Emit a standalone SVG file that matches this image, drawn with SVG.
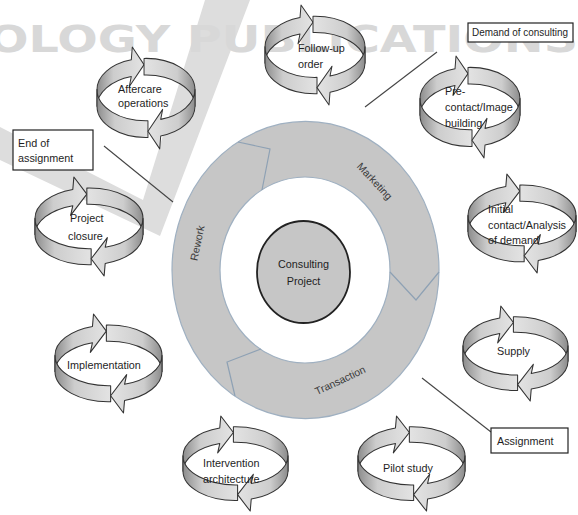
<svg xmlns="http://www.w3.org/2000/svg" width="578" height="515" viewBox="0 0 578 515">
<style>
.lbl{font-family:"Liberation Sans",Arial,sans-serif;font-size:10.8px;fill:#1e1e1e}
.rl{font-family:"Liberation Sans",Arial,sans-serif;font-size:10.5px;fill:#3a3a3a}
.rib{fill:url(#gf);stroke:#333;stroke-width:1;stroke-linejoin:round}
.box{fill:#fff;stroke:#222;stroke-width:1.2}
.con{stroke:#444;stroke-width:1.1;fill:none}
.chev{fill:none;stroke:#8ea1b4;stroke-width:1.2}
</style>
<defs>
<linearGradient id="gf" x1="0" y1="0" x2="1" y2="0">
<stop offset="0" stop-color="#8c8c8c"/>
<stop offset="0.35" stop-color="#cdcdcd"/>
<stop offset="1" stop-color="#e3e3e3"/>
</linearGradient>
<path id="back" class="rib" d="M0,40 A50,30 0 0 1 35,11.38 L36,-1 L48,16 L33,37 L35,27.38 A50,30 0 0 0 0,56 Z"/>
<path id="front" class="rib" d="M0,40 A50,30 0 0 0 52,69.98 L52,85.98 A50,30 0 0 1 0,56 Z"/>
<g id="cyc">
<use href="#back"/>
<use href="#front" transform="rotate(180 50 48)"/>
<use href="#front"/>
<use href="#back" transform="rotate(180 50 48)"/>
</g>
</defs>

<g id="watermark">
<polygon points="0,127 143,200 205,0 250,0 160,236 0,160" fill="#dddddd"/>
<text x="-12" y="52" font-family="DejaVu Sans" font-weight="bold" font-size="37" fill="#d8d8d8" textLength="590" lengthAdjust="spacingAndGlyphs">OLOGY PUBLICATIONS</text>
</g>

<g id="ring">
<path d="M172,270 A133.5,148.5 0 1 1 439,270 A133.5,148.5 0 1 1 172,270 Z M220,270 A85,93 0 1 0 390,270 A85,93 0 1 0 220,270 Z" fill="#c6c6c6" fill-rule="evenodd" stroke="#9fb0c1" stroke-width="1.2"/>
<polyline class="chev" points="238,142 270,149 262,190"/>
<polyline class="chev" points="390,272 416,300 439,272"/>
<polyline class="chev" points="261,349 227,362 235,396"/>
<text class="rl" transform="translate(375,181) rotate(47)" text-anchor="middle" dy="4">Marketing</text>
<text class="rl" transform="translate(197,243) rotate(-78)" text-anchor="middle" dy="4">Rework</text>
<text class="rl" transform="translate(340,380) rotate(-25)" text-anchor="middle" dy="4">Transaction</text>
</g>

<g id="n-center">
<ellipse cx="303.5" cy="272" rx="46.5" ry="51" fill="#c6c6c6" stroke="#222" stroke-width="1.8"/>
<text class="lbl" x="303.5" y="268" text-anchor="middle" font-size="11">Consulting</text>
<text class="lbl" x="303.5" y="285" text-anchor="middle" font-size="11">Project</text>
</g>

<g id="n-aftercare">
<use href="#cyc" transform="translate(97,48) scale(0.98,1.04)"/>
<text class="lbl" x="118" y="93">Aftercare</text>
<text class="lbl" x="118" y="107">operations</text>
</g>

<g id="n-followup">
<use href="#cyc" transform="translate(265,6) scale(1,1.02)"/>
<text class="lbl" x="298" y="52">Follow-up</text>
<text class="lbl" x="298" y="68">order</text>
</g>

<g id="n-precontact">
<use href="#cyc" transform="translate(420,57) scale(1,1.04)"/>
<text class="lbl" x="445" y="95">Pre-</text>
<text class="lbl" x="445" y="111">contact/Image</text>
<text class="lbl" x="445" y="127">building</text>
</g>

<g id="n-initial">
<use href="#cyc" transform="translate(468,175) scale(1.08,1.01)"/>
<text class="lbl" x="488" y="213">Initial</text>
<text class="lbl" x="488" y="229">contact/Analysis</text>
<text class="lbl" x="488" y="244">of demand</text>
</g>

<g id="n-supply">
<use href="#cyc" transform="translate(463,307) scale(1.05,0.97)"/>
<text class="lbl" x="497" y="355">Supply</text>
</g>

<g id="n-pilot">
<use href="#cyc" transform="translate(358,417) scale(1.07,0.97)"/>
<text class="lbl" x="383" y="472">Pilot study</text>
</g>

<g id="n-intervention">
<use href="#cyc" transform="translate(183,417) scale(1.05,0.97)"/>
<text class="lbl" x="203" y="467">Intervention</text>
<text class="lbl" x="203" y="483">architecture</text>
</g>

<g id="n-implementation">
<use href="#cyc" transform="translate(55,315) scale(1.07,1.01)"/>
<text class="lbl" x="67" y="369">Implementation</text>
</g>

<g id="n-closure">
<use href="#cyc" transform="translate(35,178) scale(1.08,1.01)"/>
<text class="lbl" x="70" y="222">Project</text>
<text class="lbl" x="68" y="240">closure</text>
</g>

<g id="connectors">
<line class="con" x1="437" y1="52" x2="365" y2="107"/>
<line class="con" x1="104" y1="146" x2="173" y2="202"/>
<line class="con" x1="422" y1="378" x2="491" y2="432"/>
</g>

<g id="n-demand">
<rect class="box" x="468" y="23" width="105" height="19"/>
<text class="lbl" x="472" y="36" font-size="10" textLength="96" lengthAdjust="spacingAndGlyphs">Demand of consulting</text>
</g>

<g id="n-end">
<rect class="box" x="13" y="130" width="80" height="40"/>
<text class="lbl" x="18" y="147">End of</text>
<text class="lbl" x="18" y="162">assignment</text>
</g>

<g id="n-assignment">
<rect class="box" x="491" y="428" width="77" height="25"/>
<text class="lbl" x="497" y="445">Assignment</text>
</g>
</svg>
